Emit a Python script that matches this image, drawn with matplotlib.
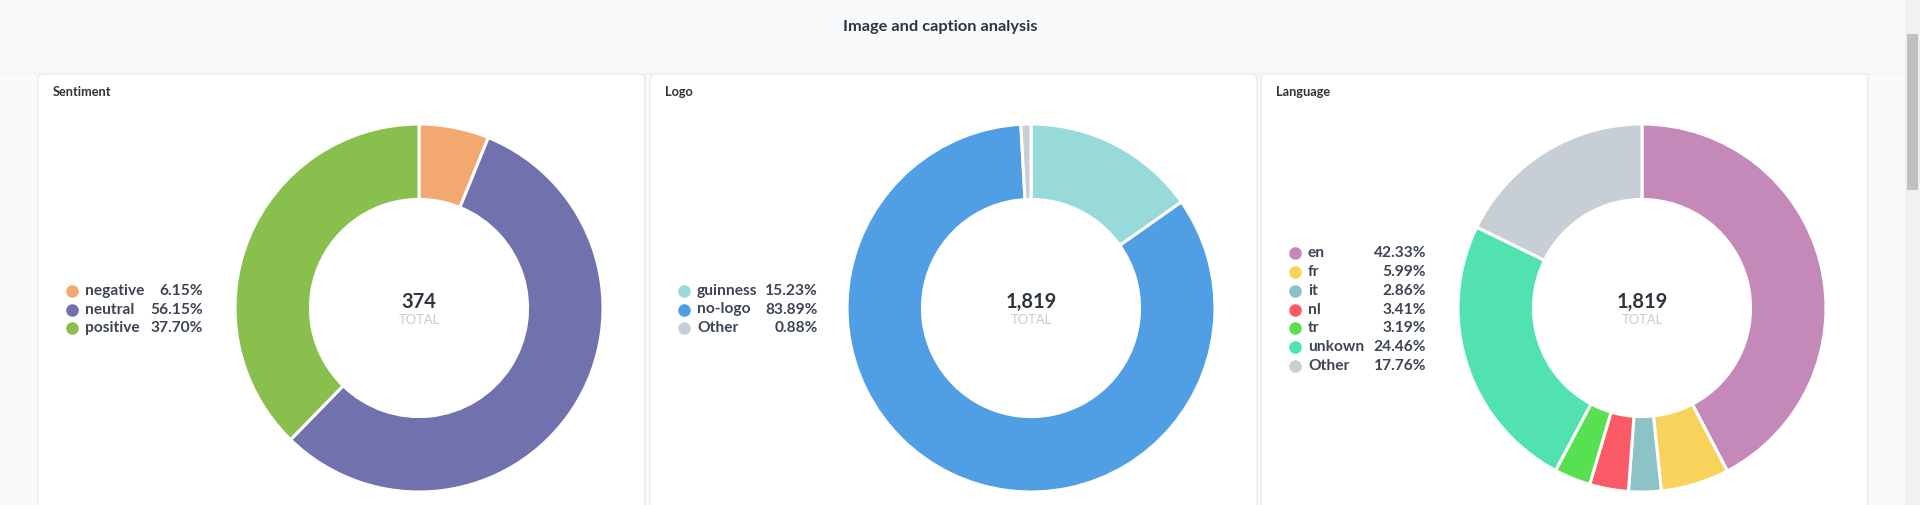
import matplotlib
matplotlib.use("Agg")
import matplotlib.pyplot as plt
from matplotlib.patches import FancyBboxPatch, Rectangle

plt.rcParams['font.family'] = ['Lato', 'DejaVu Sans']

W, H = 1920, 505

# data
sentiment_labels = ["negative", "neutral", "positive"]
sentiment_pct = [6.15, 56.15, 37.70]
sentiment_colors = ["#f2a86f", "#7172ad", "#88bf4d"]
sentiment_total = 374

logo_labels = ["guinness", "no-logo", "Other"]
logo_pct = [15.23, 83.89, 0.88]
logo_colors = ["#98d9d9", "#509ee3", "#c7ced5"]
logo_total = 1819

lang_labels = ["en", "fr", "it", "nl", "tr", "unkown", "Other"]
lang_pct = [42.33, 5.99, 2.86, 3.41, 3.19, 24.46, 17.76]
lang_colors = ["#c589b9", "#f8d35c", "#8bc3c6", "#fa5b67", "#57e04f", "#51e2b0", "#c7ced5"]
lang_total = 1819

panels = [
    ("Sentiment", sentiment_labels, sentiment_pct, sentiment_colors, sentiment_total),
    ("Logo", logo_labels, logo_pct, logo_colors, logo_total),
    ("Language", lang_labels, lang_pct, lang_colors, lang_total),
]
panel_lefts = [38, 650, 1261]
pct_right = [165, 168, 165]  # right edge of legend percentages, from card left
panel_width = 607

fig = plt.figure(figsize=(W / 100, H / 100), dpi=100)
fig.patch.set_facecolor("#f9fafb")

bg = fig.add_axes([0, 0, 1, 1], zorder=0)
bg.set_xlim(0, W)
bg.set_ylim(H, 0)
bg.axis("off")

# header line + title
bg.plot([0, 1905], [73, 73], color="#eef0f2", lw=1)
bg.text(940, 27, "Image and caption analysis", ha="center", va="center",
        fontsize=11.8, fontweight="bold", color="#2e353b")

# scrollbar
bg.add_patch(Rectangle((1905, 0), 15, H, color="#f1f1f1", lw=0))
bg.add_patch(Rectangle((1907, 34), 11, 156, color="#c1c1c1", lw=0))

R = 184
CY = 308
STEP = 18.7

for left, pr, (title, labels, pct, colors, total) in zip(panel_lefts, pct_right, panels):
    # card
    bg.add_patch(FancyBboxPatch((left, 74), panel_width, 460,
                                boxstyle="round,pad=0,rounding_size=5",
                                facecolor="white", edgecolor="#eaedf0", lw=1.2))
    bg.text(left + 15, 92, title, ha="left", va="center",
            fontsize=9.2, fontweight="bold", color="#2e353b")

    # legend
    n = len(labels)
    y0 = 309.5 - STEP * (n - 1) / 2
    for i, (lab, v, c) in enumerate(zip(labels, pct, colors)):
        y = y0 + i * STEP
        bg.scatter([left + 34], [y], s=82, color=c, lw=0)
        bg.text(left + 47, y, lab, ha="left", va="center",
                fontsize=11.2, fontweight="bold", color="#3d4452")
        bg.text(left + pr, y, f"{v:.2f}%", ha="right", va="center",
                fontsize=11.2, fontweight="bold", color="#3d4452")

    # donut
    cx = left + 381
    half = 1.1 * R
    ax = fig.add_axes([(cx - half) / W, 1 - (CY + half) / H, 2 * half / W, 2 * half / H],
                      zorder=1)
    ax.pie(pct, colors=colors, startangle=90, counterclock=False,
           wedgeprops=dict(width=0.41, edgecolor="white", linewidth=2.2))
    ax.set_xlim(-1.1, 1.1)
    ax.set_ylim(-1.1, 1.1)
    ax.set_aspect("equal")
    ax.axis("off")
    ax.text(0, 0.035, f"{total:,}", ha="center", va="center",
            fontsize=14.5, fontweight="bold", color="#2e353b")
    ax.text(0, -0.065, "TOTAL", ha="center", va="center",
            fontsize=9.3, color="#c6cbd1")

fig.savefig("out.png", dpi=100, facecolor=fig.get_facecolor())
